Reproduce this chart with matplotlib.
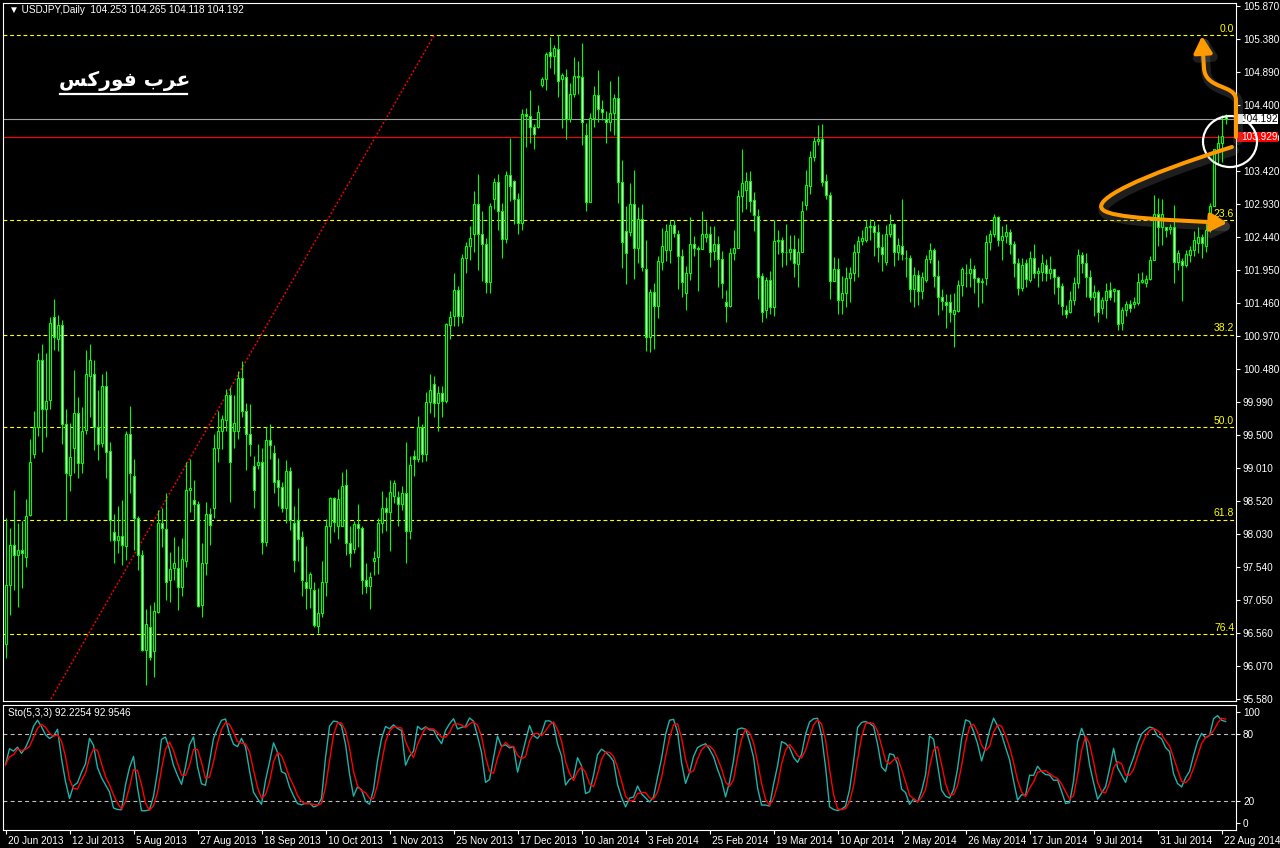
import numpy as np
import pandas as pd
import matplotlib
matplotlib.use("Agg")
import matplotlib.pyplot as plt
from matplotlib.patches import Ellipse, FancyArrowPatch, Rectangle
from matplotlib.path import Path
from matplotlib.lines import Line2D
import matplotlib.transforms as mtransforms
import matplotlib.patheffects as pe

# ---------------- data (USDJPY daily) ----------------
opens = [
    96.40, 97.27, 97.87, 97.71, 97.79, 97.68, 98.31, 99.21, 99.62, 100.61,
    99.88, 100.02, 101.25, 100.93, 101.13, 99.66, 98.91, 99.31, 99.83, 99.08,
    99.57, 100.37, 100.41, 99.62, 99.38, 100.23, 99.26, 98.05, 97.94, 98.00,
    97.85, 99.52, 98.89, 98.27, 97.71, 96.31, 96.64, 96.29, 96.87, 98.19,
    98.10, 97.34, 97.52, 97.52, 97.24, 97.63, 98.68, 98.53, 98.48, 96.98,
    97.60, 98.32, 98.41, 99.30, 99.55, 99.72, 100.09, 99.55, 99.55, 100.35,
    99.86, 99.51, 99.03, 99.05, 99.10, 97.91, 99.43, 99.23, 98.83, 98.72,
    98.41, 98.96, 98.19, 98.23, 97.98, 97.32, 97.23, 97.20, 96.66, 96.85,
    97.31, 98.14, 98.56, 98.15, 98.15, 98.75, 97.89, 97.81, 98.17, 98.11,
    97.34, 97.25, 97.62, 97.68, 98.19, 98.42, 98.35, 98.59, 98.58, 98.47,
    98.63, 98.07, 99.19, 99.14, 99.61, 99.21, 99.99, 100.25, 99.97, 100.12,
    100.01, 101.13, 101.27, 101.65, 101.26, 102.13, 102.30, 102.48, 102.93, 102.49,
    102.34, 101.77, 103.00, 103.25, 102.82, 102.41, 103.36, 103.27, 103.00, 102.64,
    104.26, 104.24, 104.08, 104.08, 104.69, 104.78, 105.18, 105.13, 105.23, 104.78,
    104.81, 104.19, 104.57, 104.83, 104.81, 103.96, 102.96, 104.20, 104.55, 104.34,
    104.19, 104.15, 104.28, 104.50, 103.25, 102.53, 102.52, 102.93, 102.27, 102.70,
    101.97, 100.96, 101.62, 101.42, 102.07, 102.25, 102.25, 102.62, 102.49, 102.15,
    101.61, 101.90, 102.34, 102.28, 102.26, 102.44, 102.48, 102.23, 102.34, 102.11,
    101.47, 101.42, 102.20, 102.28, 103.05, 103.13, 103.27, 102.99, 102.75, 101.86,
    101.36, 101.80, 101.40, 102.38, 102.39, 102.22, 102.21, 102.26, 102.04, 102.21,
    102.91, 103.20, 103.62, 103.86, 103.90, 103.27, 103.07, 101.79, 101.97, 101.51,
    101.60, 101.825, 101.90, 102.21, 102.38, 102.40, 102.58, 102.60, 102.52, 102.29,
    102.07, 102.48, 102.63, 102.21, 102.30, 102.13, 102.12, 101.66, 101.88, 101.64,
    101.80, 102.11, 102.25, 101.86, 101.55, 101.48, 101.48, 101.30, 101.34, 101.72,
    101.91, 101.91, 101.96, 101.825, 101.765, 101.835, 102.36, 102.49, 102.73, 102.39,
    102.46, 102.51, 102.33, 102.05, 101.68, 102.05, 101.80, 102.13, 101.91, 101.92,
    102.03, 101.91, 101.96, 101.84, 101.71, 101.36, 101.33, 101.50, 101.75, 102.17,
    102.05, 101.84, 101.55, 101.62, 101.38, 101.51, 101.65, 101.64, 101.65, 101.16,
    101.36, 101.45, 101.44, 101.46, 101.77, 101.76, 101.82, 102.10, 102.78, 102.59,
    102.59, 102.56, 102.59, 102.07, 102.08, 102.03, 102.17, 102.25, 102.35, 102.44,
    102.30, 102.55, 102.90, 103.74, 103.83, 104.253,
]
highs = [
    98.26, 98.11, 98.68, 98.19, 98.22, 98.54, 99.44, 99.85, 100.72, 100.85,
    100.71, 101.25, 101.52, 101.28, 101.21, 99.89, 99.67, 100.46, 100.06, 99.92,
    100.76, 100.85, 100.61, 100.17, 100.41, 100.45, 99.39, 98.32, 98.44, 98.53,
    99.56, 99.93, 99.14, 98.30, 97.79, 96.91, 96.97, 97.02, 98.39, 98.41,
    98.63, 97.76, 97.99, 97.85, 97.97, 99.10, 99.14, 98.83, 98.52, 97.89,
    98.50, 98.42, 99.52, 99.85, 99.80, 100.18, 100.21, 100.09, 100.45, 100.60,
    99.97, 99.96, 99.18, 99.36, 99.31, 99.62, 99.66, 99.35, 99.15, 98.80,
    99.13, 99.02, 98.44, 98.71, 98.07, 97.85, 97.46, 97.31, 97.23, 97.63,
    98.25, 98.57, 98.57, 98.70, 98.95, 98.99, 98.14, 98.22, 98.47, 98.14,
    97.59, 97.47, 97.77, 98.26, 98.67, 98.57, 98.83, 98.83, 98.67, 98.74,
    99.39, 99.19, 99.27, 99.78, 99.66, 100.14, 100.41, 100.37, 100.23, 100.23,
    101.16, 101.34, 101.90, 101.71, 102.19, 102.36, 102.60, 103.12, 103.38, 102.82,
    102.42, 102.95, 103.31, 103.38, 102.94, 103.42, 103.91, 103.29, 103.09, 104.34,
    104.35, 104.62, 104.12, 104.40, 104.81, 105.18, 105.41, 105.29, 105.44, 104.87,
    104.93, 104.72, 105.11, 105.05, 105.32, 104.13, 104.28, 104.68, 104.92, 104.47,
    104.31, 104.75, 104.57, 104.83, 103.58, 102.90, 103.24, 103.43, 102.88, 102.93,
    102.39, 101.67, 101.76, 102.16, 102.57, 102.63, 102.69, 102.69, 102.55, 102.26,
    102.01, 102.74, 102.45, 102.30, 102.82, 102.68, 102.60, 102.60, 102.45, 102.23,
    101.65, 102.28, 102.54, 103.14, 103.75, 103.41, 103.42, 103.10, 102.85, 101.90,
    101.85, 101.93, 102.69, 102.54, 102.44, 102.63, 102.47, 102.47, 102.42, 102.98,
    103.43, 103.71, 103.93, 104.10, 104.12, 103.37, 103.11, 102.14, 102.12, 101.86,
    102.00, 102.00, 102.33, 102.45, 102.55, 102.69, 102.70, 102.67, 102.63, 102.49,
    102.62, 102.78, 102.64, 102.43, 103.00, 102.25, 102.17, 101.99, 101.95, 101.92,
    102.17, 102.35, 102.28, 102.10, 101.67, 101.59, 101.59, 101.61, 101.80, 101.99,
    102.04, 102.12, 102.02, 101.84, 101.825, 102.47, 102.54, 102.78, 102.75, 102.60,
    102.63, 102.56, 102.38, 102.12, 102.12, 102.11, 102.23, 102.34, 101.99, 102.18,
    102.11, 102.16, 101.96, 101.86, 101.76, 101.43, 101.63, 101.85, 102.26, 102.22,
    102.20, 101.95, 101.73, 101.65, 101.55, 101.76, 101.77, 101.68, 101.65, 101.40,
    101.49, 101.50, 101.55, 101.90, 101.92, 101.87, 102.16, 103.07, 103.02, 103.01,
    102.59, 102.63, 102.91, 102.25, 102.12, 102.24, 102.30, 102.53, 102.59, 102.49,
    102.69, 102.94, 103.74, 103.95, 104.25, 104.265,
]
lows = [
    96.18, 96.82, 97.19, 96.94, 97.22, 97.54, 98.30, 99.15, 99.49, 99.24,
    99.47, 99.88, 100.76, 100.74, 99.36, 98.23, 98.66, 98.93, 98.86, 98.93,
    99.52, 99.77, 99.27, 99.12, 99.32, 98.86, 97.93, 97.60, 97.74, 97.56,
    97.64, 98.63, 97.79, 97.49, 96.29, 95.78, 96.16, 95.90, 96.85, 97.84,
    97.05, 97.02, 97.34, 96.90, 97.10, 97.54, 98.36, 98.23, 96.95, 96.79,
    97.42, 97.86, 98.26, 99.10, 99.29, 99.55, 98.51, 99.31, 99.44, 99.77,
    98.98, 99.18, 98.42, 98.99, 97.73, 97.85, 99.14, 98.63, 98.45, 98.36,
    98.19, 98.08, 97.47, 97.62, 97.11, 96.91, 96.93, 96.65, 96.55, 96.80,
    97.10, 97.90, 98.06, 97.95, 98.14, 97.72, 97.53, 97.74, 97.84, 97.13,
    97.15, 96.92, 97.42, 97.43, 98.04, 98.07, 97.77, 98.49, 98.14, 98.38,
    97.59, 97.95, 98.89, 99.09, 99.09, 99.11, 99.82, 99.77, 99.55, 99.77,
    99.98, 100.92, 101.12, 101.12, 101.16, 101.91, 102.10, 102.21, 101.95, 101.79,
    101.60, 101.61, 102.86, 102.54, 102.13, 102.35, 102.98, 102.63, 102.49, 102.54,
    103.77, 103.84, 103.75, 104.06, 104.66, 104.62, 104.95, 104.86, 104.52, 104.06,
    103.89, 104.14, 104.52, 104.57, 103.81, 102.83, 102.96, 104.08, 104.14, 104.18,
    103.84, 104.01, 103.95, 102.95, 101.98, 101.74, 102.46, 101.81, 102.06, 101.94,
    100.75, 100.73, 100.78, 101.23, 101.95, 102.08, 102.06, 102.44, 101.67, 101.55,
    101.35, 101.80, 102.16, 101.64, 102.26, 102.36, 101.99, 102.09, 101.70, 101.54,
    101.18, 101.40, 102.10, 102.27, 102.81, 102.85, 102.81, 102.53, 101.52, 101.18,
    101.24, 101.29, 101.27, 102.19, 102.00, 102.02, 102.09, 101.85, 101.70, 102.21,
    102.84, 103.08, 103.57, 103.81, 103.19, 103.01, 101.52, 101.79, 101.30, 101.30,
    101.40, 101.48, 101.79, 101.85, 102.32, 102.37, 102.39, 102.15, 102.07, 101.94,
    102.02, 102.44, 102.01, 102.10, 102.10, 101.85, 101.48, 101.40, 101.43, 101.52,
    101.77, 102.05, 101.70, 101.28, 101.35, 101.08, 101.17, 100.80, 101.33, 101.56,
    101.70, 101.70, 101.60, 101.40, 101.46, 101.72, 102.25, 102.44, 102.31, 102.10,
    102.355, 102.19, 101.84, 101.58, 101.63, 101.70, 101.775, 101.825, 101.70, 101.79,
    101.79, 101.81, 101.59, 101.45, 101.28, 101.23, 101.31, 101.43, 101.68, 101.90,
    101.55, 101.50, 101.26, 101.18, 101.30, 101.23, 101.50, 101.48, 101.06, 101.06,
    101.26, 101.32, 101.38, 101.43, 101.76, 101.70, 101.80, 102.10, 102.30, 102.32,
    102.44, 102.49, 101.76, 101.95, 101.49, 102.00, 102.07, 102.15, 102.20, 102.12,
    102.22, 102.52, 102.90, 103.51, 103.56, 104.118,
]
closes = [
    97.27, 97.87, 97.71, 97.79, 97.74, 98.30, 99.10, 99.62, 100.61, 99.88,
    100.00, 101.16, 100.95, 101.13, 99.66, 98.93, 99.17, 99.83, 99.08, 99.55,
    100.40, 100.61, 99.62, 99.37, 100.23, 99.25, 98.23, 97.94, 98.00, 97.86,
    99.52, 98.93, 98.27, 97.71, 96.31, 96.69, 96.20, 96.88, 98.19, 98.11,
    97.32, 97.50, 97.59, 97.24, 97.65, 98.68, 98.71, 98.48, 96.96, 97.60,
    98.32, 98.16, 99.31, 99.55, 99.73, 100.09, 99.09, 99.68, 100.35, 99.86,
    99.51, 99.36, 98.68, 99.10, 97.91, 99.43, 99.35, 98.80, 98.72, 98.41,
    98.96, 98.23, 97.64, 97.96, 97.34, 97.23, 97.44, 96.68, 96.85, 97.31,
    98.15, 98.56, 98.20, 98.54, 98.74, 97.89, 97.74, 98.17, 98.11, 97.35,
    97.25, 97.39, 97.67, 98.19, 98.42, 98.35, 98.65, 98.79, 98.47, 98.63,
    98.07, 99.05, 99.14, 99.61, 99.21, 99.99, 100.17, 99.97, 100.12, 100.01,
    101.14, 101.25, 101.65, 101.27, 102.13, 102.30, 102.43, 102.93, 102.49, 102.34,
    101.77, 102.90, 103.25, 102.82, 102.41, 103.36, 103.20, 103.00, 102.64, 104.26,
    104.23, 104.08, 103.97, 104.29, 104.78, 105.16, 105.12, 105.24, 104.76, 104.84,
    104.19, 104.57, 104.83, 104.81, 104.15, 102.96, 104.20, 104.55, 104.34, 104.30,
    104.15, 104.28, 104.50, 103.25, 102.37, 102.20, 102.93, 102.27, 102.70, 101.99,
    100.96, 101.62, 101.42, 102.08, 102.31, 102.53, 102.62, 102.50, 102.15, 101.77,
    101.90, 102.34, 102.28, 102.26, 102.48, 102.48, 102.21, 102.34, 102.11, 101.76,
    101.42, 102.20, 102.28, 103.05, 103.24, 103.27, 102.98, 102.76, 101.85, 101.33,
    101.80, 101.40, 102.38, 102.39, 102.22, 102.21, 102.26, 102.06, 102.21, 102.83,
    103.21, 103.62, 103.86, 103.90, 103.25, 103.07, 101.79, 101.97, 101.50, 101.60,
    101.825, 101.90, 102.21, 102.38, 102.42, 102.58, 102.60, 102.52, 102.29, 102.18,
    102.48, 102.63, 102.21, 102.32, 102.18, 102.12, 101.66, 101.88, 101.64, 101.85,
    102.11, 102.25, 101.86, 101.55, 101.49, 101.43, 101.32, 101.35, 101.72, 101.96,
    101.90, 101.96, 101.825, 101.765, 101.785, 102.36, 102.49, 102.73, 102.39, 102.46,
    102.51, 102.33, 102.06, 101.68, 102.03, 101.81, 102.12, 101.90, 101.93, 102.06,
    101.91, 101.96, 101.84, 101.70, 101.41, 101.30, 101.50, 101.76, 102.17, 102.05,
    101.84, 101.55, 101.62, 101.32, 101.51, 101.64, 101.55, 101.66, 101.15, 101.36,
    101.45, 101.38, 101.48, 101.775, 101.80, 101.82, 102.10, 102.78, 102.59, 102.78,
    102.55, 102.59, 102.07, 102.20, 102.02, 102.19, 102.25, 102.39, 102.44, 102.35,
    102.54, 102.90, 103.74, 103.84, 103.94, 104.192,
]

date_labels = ["20 Jun 2013", "12 Jul 2013", "5 Aug 2013", "27 Aug 2013", "18 Sep 2013",
               "10 Oct 2013", "1 Nov 2013", "25 Nov 2013", "17 Dec 2013", "10 Jan 2014",
               "3 Feb 2014", "25 Feb 2014", "19 Mar 2014", "10 Apr 2014", "2 May 2014",
               "26 May 2014", "17 Jun 2014", "9 Jul 2014", "31 Jul 2014", "22 Aug 2014"]
bars_per_label = 16

price_ticks = [105.870, 105.380, 104.890, 104.400, 103.910, 103.420, 102.930, 102.440,
               101.950, 101.460, 100.970, 100.480, 99.990, 99.500, 99.010, 98.520,
               98.030, 97.540, 97.050, 96.560, 96.070, 95.580]
stoch_ticks = [0, 20, 80, 100]
stoch_levels = [20, 80]

fib_low, fib_high = 93.79, 105.44
fib_levels = [0.0, 23.6, 38.2, 50.0, 61.8, 76.4]
fib_anchor_bars = [-6.0, 107.2]

bid_price = 104.192
hline_price = 103.929
header = "\u25BC USDJPY,Daily  104.253 104.265 104.118 104.192"
stoch_header = "Sto(5,3,3) 92.2254 92.9546"
# Arabic "عرب فوركس" in presentation forms, visual order
brand_text = "\uFEB2\uFEDB\uFEAD\uFEEE\uFED3 \uFE8F\uFEAE\uFECB"

assert len(opens) == len(highs) == len(lows) == len(closes)

# ---------------- figure ----------------
W, H = 1280, 848
fig = plt.figure(figsize=(W / 100, H / 100), dpi=100, facecolor="black")


def px_box(left, top, right, bottom):
    return [left / W, 1 - bottom / H, (right - left) / W, (bottom - top) / H]


ax = fig.add_axes(px_box(3.3, 3, 1236, 701))
ax2 = fig.add_axes(px_box(3.3, 704.5, 1236, 830), sharex=ax)

GREEN = "#00FF00"
SMALL = "Liberation Sans"
FS = 7.2

for a in (ax, ax2):
    a.set_facecolor("black")
    for s in a.spines.values():
        s.set_color("white")
        s.set_linewidth(0.8)

x = np.arange(len(closes))
o = np.array(opens)
h = np.array(highs)
l = np.array(lows)
c = np.array(closes)

# fib levels
rng = fib_high - fib_low
for lv in fib_levels:
    p = fib_high - lv / 100.0 * rng
    ax.axhline(p, color="#FFFF00", lw=0.8, linestyle=(0, (3.5, 2.5)), zorder=1)
    ax.text(0.9985, p + 0.02, f"{lv:.1f}", transform=ax.get_yaxis_transform(),
            ha="right", va="bottom", color="#FFFF00", fontsize=FS + 0.3, family=SMALL, zorder=6)
ax.plot(fib_anchor_bars, [fib_low, fib_high], color="#FF0000", lw=1.2,
        linestyle=(0, (1.0, 1.4)), zorder=1)

# horizontal lines
ax.axhline(bid_price, color="#A0A0A0", lw=0.8, zorder=1)
ax.axhline(hline_price, color="#FF0000", lw=0.8, zorder=1)

# candles
ax.vlines(x, l, h, color=GREEN, lw=0.8, zorder=2)
bull = c >= o
ax.bar(x, np.abs(c - o), bottom=np.minimum(o, c), width=0.5,
       color=np.where(bull, "black", "white"), edgecolor=GREEN, linewidth=0.8, zorder=3)

ax.set_xlim(-0.55, 307.6)
ax.set_ylim(95.5467, 105.9146)

ax.yaxis.tick_right()
ax.set_yticks(price_ticks)
ax.set_yticklabels([f"{v:.3f}" for v in price_ticks])
ax.tick_params(axis="y", colors="white", length=3, width=0.8, pad=2, labelsize=FS)
ax.tick_params(axis="x", bottom=False, labelbottom=False)
for t in ax.get_yticklabels():
    t.set_family(SMALL)

# price label boxes
ytr = ax.get_yaxis_transform()
for price, fc, tc in [(bid_price, "white", "black"), (hline_price, "#FF0000", "white")]:
    ax.add_patch(Rectangle((1.0007, price - 0.072), 0.0335, 0.144, transform=ytr,
                           facecolor=fc, edgecolor="none", clip_on=False, zorder=8))
    ax.text(1.0040, price, f"{price:.3f}", transform=ytr, ha="left", va="center",
            color=tc, fontsize=FS, family=SMALL, zorder=9, clip_on=False)

# header text
ax.text(0.0046, 0.990, header, transform=ax.transAxes, ha="left", va="center",
        color="white", fontsize=FS, family=SMALL, zorder=9)

# brand
ax.text(0.0985, 0.889, brand_text, transform=ax.transAxes, ha="center", va="center",
        color="white", fontsize=14.5, fontweight="bold", family="DejaVu Sans", zorder=9)
ax.add_line(Line2D([0.046, 0.149], [0.8696, 0.8696], transform=ax.transAxes,
                   color="white", lw=1.6, zorder=9))

# annotation circle + arrows
ax.add_patch(Ellipse((306.1, 103.857), 13.5, 0.758, fill=False, edgecolor="white",
                     lw=1.6, clip_on=False, zorder=10))
ORANGE = "#FF9A00"
p1 = Path([(307.6, 103.924), (307.6, 104.474), (307.6, 104.711), (299.9, 104.622),
           (299.6, 104.949), (299.1, 105.424)],
          [Path.MOVETO, Path.LINETO, Path.CURVE4, Path.CURVE4, Path.CURVE4, Path.LINETO])
p2 = Path([(306.6, 103.776), (283.6, 103.345), (271.1, 102.988), (274.4, 102.84),
           (276.6, 102.721), (291.1, 102.691), (305.4, 102.647)],
          [Path.MOVETO, Path.CURVE4, Path.CURVE4, Path.CURVE4, Path.CURVE4, Path.CURVE4, Path.CURVE4])
for pth in (p1, p2):
    arr = FancyArrowPatch(path=pth, arrowstyle="-|>,head_length=0.45,head_width=0.25",
                          mutation_scale=22, color=ORANGE, lw=2.9, clip_on=False, zorder=11)
    arr.set_path_effects([pe.SimpleLineShadow(offset=(1.5, -2.5), shadow_color="#8a8a8a",
                                              alpha=0.22, linewidth=7), pe.Normal()])
    ax.add_patch(arr)

# ---------------- stochastic ----------------
df = pd.DataFrame({"h": h, "l": l, "c": c})
ll = df["l"].rolling(5, min_periods=1).min()
hh = df["h"].rolling(5, min_periods=1).max()
k_main = 100 * (df["c"] - ll).rolling(3, min_periods=1).sum() / (hh - ll).rolling(3, min_periods=1).sum()
d_sig = k_main.rolling(3, min_periods=1).mean()

for lev in stoch_levels:
    ax2.axhline(lev, color="#C0C0C0", lw=0.8, linestyle=(0, (3.5, 3)), zorder=1)
ax2.plot(x, k_main, color="#20B2AA", lw=1.0, zorder=3)
ax2.plot(x, d_sig, color="#FF0000", lw=1.0, zorder=4)
ax2.set_ylim(-6.0, 106.45)
ax2.yaxis.tick_right()
ax2.set_yticks(stoch_ticks)
ax2.set_yticklabels([str(v) for v in stoch_ticks])
ax2.tick_params(axis="y", colors="white", length=3, width=0.8, pad=2, labelsize=FS)
for t in ax2.get_yticklabels():
    t.set_family(SMALL)
ax2.text(0.0038, 0.932, stoch_header, transform=ax2.transAxes, ha="left", va="center",
         color="white", fontsize=FS, family=SMALL)

ax2.set_xticks(np.arange(len(date_labels)) * bars_per_label)
ax2.set_xticklabels(date_labels)
ax2.tick_params(axis="x", colors="white", length=3, width=0.8, pad=1.5, labelsize=FS)
offset = mtransforms.ScaledTranslation(2 / 100, 0, fig.dpi_scale_trans)
for t in ax2.get_xticklabels():
    t.set_ha("left")
    t.set_family(SMALL)
    t.set_transform(t.get_transform() + offset)

fig.savefig("out.png", dpi=100, facecolor="black")
